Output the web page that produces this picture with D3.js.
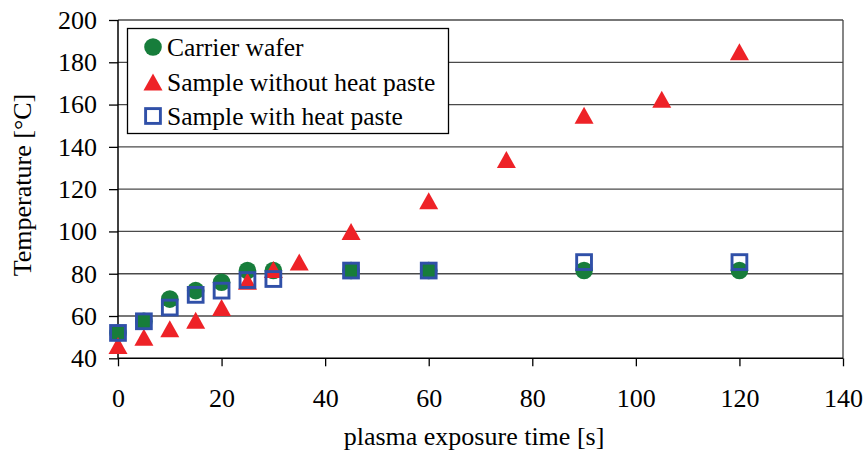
<!DOCTYPE html>
<html>
<head>
<meta charset="utf-8">
<script src="https://cdn.jsdelivr.net/npm/d3@7"></script>
<style>
  body { margin: 0; background: #fff; }
  text { font-family: "Liberation Serif", "Times New Roman", serif; fill: #000; }
</style>
</head>
<body>
<div class="container"></div>
<script>
const size = { width: 865, height: 456 };

// data
const carrierTime = [0, 5, 10, 15, 20, 25, 30, 45, 60, 90, 120];
const carrierTemp = [52, 57.5, 68, 72, 76, 81.5, 81.5, 81.5, 81.5, 81.5, 81.5];

const noPasteTime = [0, 5, 10, 15, 20, 25, 30, 35, 45, 60, 75, 90, 105, 120];
const noPasteTemp = [46, 50, 54, 58, 64, 76.5, 82, 85.5, 100, 114.5, 134, 155, 162.5, 185];

const pasteTime = [0, 5, 10, 15, 20, 25, 30, 45, 60, 90, 120];
const pasteTemp = [52, 57.5, 64, 70, 72, 77, 77.5, 81.5, 81.5, 85.5, 85.5];

const xTicks = [0, 20, 40, 60, 80, 100, 120, 140];
const yTicks = [40, 60, 80, 100, 120, 140, 160, 180, 200];
const seriesNames = ["Carrier wafer", "Sample without heat paste", "Sample with heat paste"];

const green = "#177d3b", red = "#ee2227", blue = "#3050a8";

const svg = d3.select(".container")
              .append("svg")
              .attr("width", size.width)
              .attr("height", size.height);

const x = d3.scaleLinear().domain([0, 140]).range([118, 843]);
const y = d3.scaleLinear().domain([40, 200]).range([358.3, 20]);

// gridlines + right border
svg.append("g")
   .selectAll("line")
   .data(yTicks.filter(d => d > 40))
   .enter()
     .append("line")
     .attr("x1", x(0)).attr("x2", x(140))
     .attr("y1", d => y(d)).attr("y2", d => y(d))
     .attr("stroke", "#4a4a4a")
     .attr("stroke-width", 1.3);

svg.append("line")
   .attr("x1", x(140)).attr("x2", x(140))
   .attr("y1", y(200)).attr("y2", y(40))
   .attr("stroke", "#444").attr("stroke-width", 1.3);

// axes
const yAxis = d3.axisLeft(y).tickValues(yTicks).tickSize(9).tickPadding(12);
const xAxis = d3.axisBottom(x).tickValues(xTicks).tickSize(8).tickPadding(22);

const gy = svg.append("g").attr("transform", `translate(${x(0)},0)`).call(yAxis);
const gx = svg.append("g").attr("transform", `translate(0,${y(40)})`).call(xAxis);

[gx, gy].forEach(g => {
    g.select(".domain").attr("stroke", "#000").attr("stroke-width", 1.5);
    g.selectAll(".tick line").attr("stroke", "#000").attr("stroke-width", 1.3);
    g.selectAll(".tick text")
     .attr("font-size", 26)
     .attr("fill", "#000");
});
gy.select(".domain").attr("d", `M0,${y(200)}V${y(40)}`);
gx.select(".domain").attr("d", `M${x(0)},0H${x(140)}`);

// axis titles
svg.append("text")
   .attr("x", 474).attr("y", 445)
   .attr("text-anchor", "middle")
   .attr("font-size", 26)
   .text("plasma exposure time [s]");

svg.append("text")
   .attr("transform", "translate(30.5,185) rotate(-90)")
   .attr("text-anchor", "middle")
   .attr("font-size", 26)
   .text("Temperature [°C]");

// excel-like triangle, centred on its bounding box
const triShape = {
    draw(ctx) {
        const w = 9.5, h = 8.5;
        ctx.moveTo(0, -h);
        ctx.lineTo(w, h);
        ctx.lineTo(-w, h);
        ctx.closePath();
    }
};
const tri = d3.symbol().type(triShape);
const marks = svg.append("g");

const pairs = (xs, ys) => xs.map((t, i) => [t, ys[i]]);

// circles first, then triangles, squares on top
marks.selectAll(null)
     .data(pairs(carrierTime, carrierTemp))
     .enter()
       .append("circle")
       .attr("cx", d => x(d[0])).attr("cy", d => y(d[1]))
       .attr("r", 8.8)
       .attr("fill", green);

marks.selectAll(null)
     .data(pairs(noPasteTime, noPasteTemp))
     .enter()
       .append("path")
       .attr("d", tri)
       .attr("transform", d => `translate(${x(d[0])},${y(d[1])})`)
       .attr("fill", red);

marks.selectAll(null)
     .data(pairs(pasteTime, pasteTemp))
     .enter()
       .append("rect")
       .attr("x", d => x(d[0]) - 7.4).attr("y", d => y(d[1]) - 7.4)
       .attr("width", 14.8).attr("height", 14.8)
       .attr("fill", "none")
       .attr("stroke", blue)
       .attr("stroke-width", 2.9);

// legend
const legend = svg.append("g");
legend.append("rect")
      .attr("x", 127.5).attr("y", 28.5)
      .attr("width", 321).attr("height", 105)
      .attr("fill", "#fff")
      .attr("stroke", "#000")
      .attr("stroke-width", 1.3);

const rowY = [47, 82, 116];
legend.append("circle").attr("cx", 153).attr("cy", rowY[0]).attr("r", 8.8).attr("fill", green);
legend.append("path").attr("d", tri).attr("transform", `translate(153,${rowY[1]})`).attr("fill", red);
legend.append("rect")
      .attr("x", 153 - 7.4).attr("y", rowY[2] - 7.4)
      .attr("width", 14.8).attr("height", 14.8)
      .attr("fill", "none").attr("stroke", blue).attr("stroke-width", 2.9);

legend.selectAll("text")
      .data(seriesNames)
      .enter()
        .append("text")
        .attr("x", 167)
        .attr("y", (d, i) => rowY[i] + 8.5)
        .attr("font-size", 25.5)
        .text(d => d);
</script>
</body>
</html>
